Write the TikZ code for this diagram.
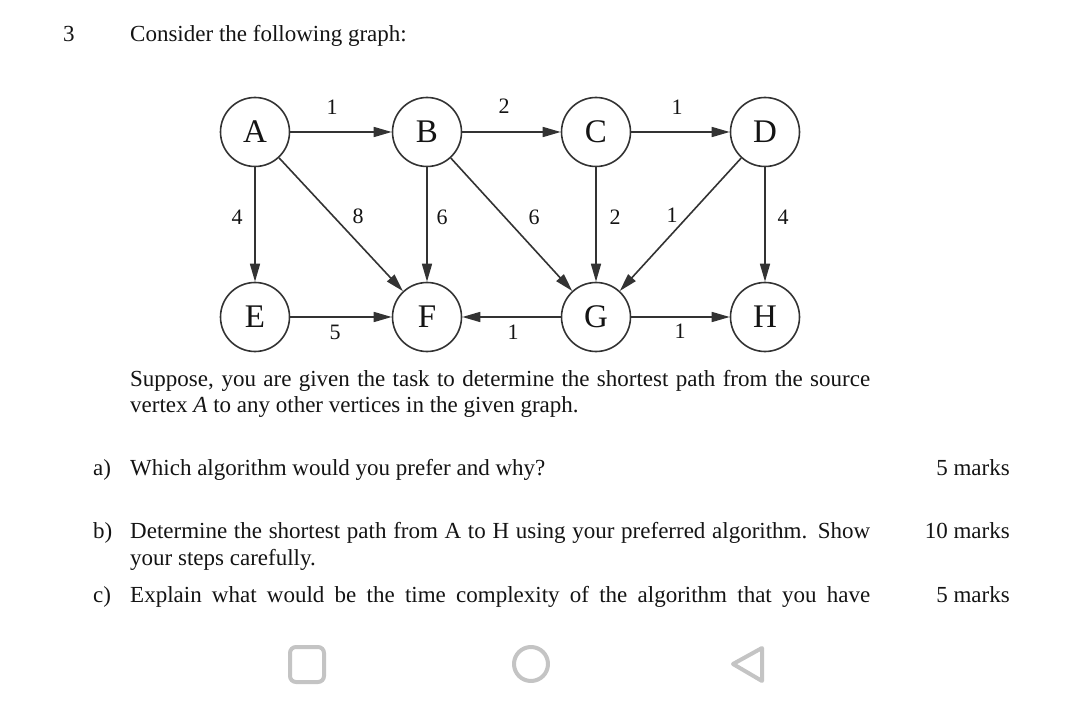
\documentclass[tikz,border=0pt]{standalone}
\usepackage{fontspec}
\setmainfont{Liberation Serif}
\usetikzlibrary{arrows.meta}
\definecolor{edgec}{HTML}{333333}
\definecolor{txtc}{HTML}{141414}
\definecolor{navgray}{HTML}{C4C4C4}
\tikzset{
  vert/.style={circle, draw=edgec, line width=1.6pt, minimum size=69pt, inner sep=0pt, text=txtc, font=\fontsize{33}{33}\selectfont},
  edge/.style={-{Triangle[length=18pt,width=10pt]}, draw=edgec, line width=1.6pt},
  wlab/.style={font=\fontsize{22}{22}\selectfont, inner sep=0pt, text=txtc},
  body/.style={font=\fontsize{23}{27}\selectfont, inner sep=0pt, anchor=base west, text=txtc},
  marks/.style={font=\fontsize{23}{27}\selectfont, inner sep=0pt, anchor=base east, text=txtc},
  nav/.style={draw=navgray, line width=4pt, line join=round}
}
\begin{document}
\begin{tikzpicture}[x=1pt,y=-1pt]
\useasboundingbox (0,0) rectangle (1080,722);
\fill[white] (0,0) rectangle (1080,722);
% header
\node[body] (num) at (63,41.5) {3};
\node[body] (intro) at (130,41.5) {Consider the following graph:};
% vertices
\node[vert] (A) at (255,132) {A};
\node[vert] (B) at (427,132) {B};
\node[vert] (C) at (596,132) {C};
\node[vert] (D) at (765,132) {D};
\node[vert] (E) at (255,317) {E};
\node[vert] (F) at (427,317) {F};
\node[vert] (G) at (596,317) {G};
\node[vert] (H) at (765,317) {H};
% edges
\draw[edge] (A) -- (B);
\draw[edge] (B) -- (C);
\draw[edge] (C) -- (D);
\draw[edge] (A) -- (E);
\draw[edge] (A) -- (F);
\draw[edge] (B) -- (F);
\draw[edge] (B) -- (G);
\draw[edge] (C) -- (G);
\draw[edge] (D) -- (G);
\draw[edge] (D) -- (H);
\draw[edge] (E) -- (F);
\draw[edge] (G) -- (F);
\draw[edge] (G) -- (H);
% weights
\node[wlab] (lAB) at (332,107) {1};
\node[wlab] (lBC) at (504,106) {2};
\node[wlab] (lCD) at (677,107) {1};
\node[wlab] (lAE) at (237,217) {4};
\node[wlab] (lAF) at (358,216) {8};
\node[wlab] (lBF) at (442,217) {6};
\node[wlab] (lBG) at (534,217) {6};
\node[wlab] (lCG) at (615,217) {2};
\node[wlab] (lDG) at (672,215) {1};
\node[wlab] (lDH) at (783,217) {4};
\node[wlab] (lEF) at (335,332) {5};
\node[wlab] (lGF) at (513,332) {1};
\node[wlab] (lGH) at (680,331) {1};
% question text
\node[body] (s1) at (130,386) {\makebox[740pt][s]{Suppose, you are given the task to determine the shortest path from the source}};
\node[body] (s2) at (130,412) {vertex \textit{A} to any other vertices in the given graph.};
\node[body] (qa) at (93,475) {a)};
\node[body] (ta) at (130,475) {Which algorithm would you prefer and why?};
\node[marks] (ma) at (1010,475) {5 marks};
\node[body] (qb) at (93,538) {b)};
\node[body] (tb1) at (130,538) {\makebox[740pt][s]{Determine the shortest path from A to H using your preferred algorithm. Show}};
\node[body] (tb2) at (130,565) {your steps carefully.};
\node[marks] (mb) at (1010,538) {10 marks};
\node[body] (qc) at (93,602) {c)};
\node[body] (tc) at (130,602) {\makebox[740pt][s]{Explain what would be the time complexity of the algorithm that you have}};
\node[marks] (mc) at (1010,602) {5 marks};
% navigation bar
\draw[nav, rounded corners=6pt] (290,647) rectangle (324,682);
\draw[nav] (531,664) circle[radius=17pt];
\draw[nav] (762,648) -- (733,664) -- (762,681) -- cycle;
\end{tikzpicture}
\end{document}
